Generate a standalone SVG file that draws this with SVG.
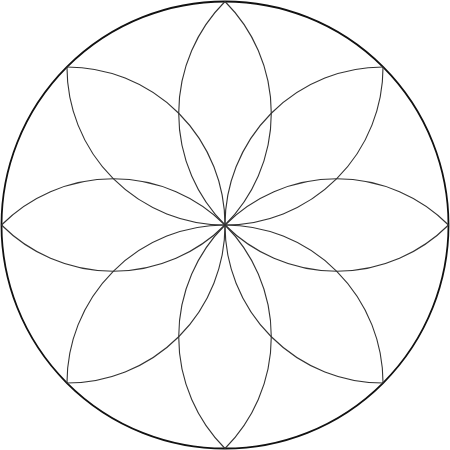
<svg xmlns="http://www.w3.org/2000/svg" xmlns:xlink="http://www.w3.org/1999/xlink" width="450" height="450" viewBox="0 0 450 450">
<style>
.outer{fill:none;stroke:#111;stroke-width:1.8}
.arc{fill:none;stroke:#333;stroke-width:1.1}
</style>
<defs>
<path id="semi" class="arc" d="M225,1.5 A158.04,158.04 0 0 1 225,225 A158.04,158.04 0 0 1 1.5,225"/>
</defs>
<rect width="450" height="450" fill="#fff"/>
<circle class="outer" cx="225" cy="225" r="223.5"/>
<g id="petals">
<use xlink:href="#semi"/>
<use xlink:href="#semi" transform="rotate(45 225 225)"/>
<use xlink:href="#semi" transform="rotate(90 225 225)"/>
<use xlink:href="#semi" transform="rotate(135 225 225)"/>
<use xlink:href="#semi" transform="rotate(180 225 225)"/>
<use xlink:href="#semi" transform="rotate(225 225 225)"/>
<use xlink:href="#semi" transform="rotate(270 225 225)"/>
<use xlink:href="#semi" transform="rotate(315 225 225)"/>
</g>
</svg>
